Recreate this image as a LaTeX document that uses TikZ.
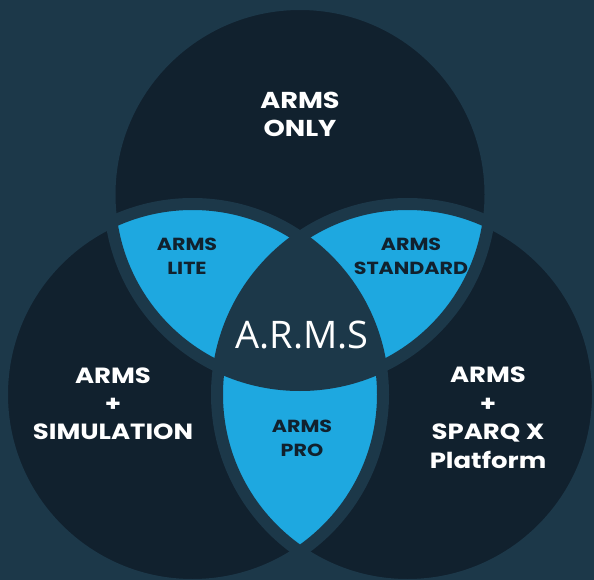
\documentclass[tikz,border=0pt]{standalone}
\usepackage{fontspec}
\newfontfamily\popfont{Poppins}[FakeStretch=1.18]
\newfontfamily\opensans{Open Sans}
\definecolor{bgcol}{HTML}{1C3849}
\definecolor{darkcol}{HTML}{11212E}
\definecolor{bluecol}{HTML}{1EA8E0}
\tikzset{
  lbl/.style={align=center, text=white, inner sep=0pt},
  lblblue/.style={align=center, text=darkcol, inner sep=0pt},
  gap/.style={draw=bgcol, line width=12pt}
}
\begin{document}
\begin{tikzpicture}[x=1pt,y=-1pt]
\useasboundingbox (0,0) rectangle (594,580);
\fill[bgcol] (0,0) rectangle (594,580);
\def\R{190.5}
\coordinate (T) at (300,194.5);
\coordinate (L) at (192.5,394.5);
\coordinate (Rc) at (407.5,394.5);
% circles
\fill[darkcol] (T) circle (\R);
\fill[darkcol] (L) circle (\R);
\fill[darkcol] (Rc) circle (\R);
% pairwise intersections
\begin{scope}\clip (T) circle (\R); \fill[bluecol] (L) circle (\R); \fill[bluecol] (Rc) circle (\R);\end{scope}
\begin{scope}\clip (L) circle (\R); \fill[bluecol] (Rc) circle (\R);\end{scope}
% triple intersection
\begin{scope}\clip (T) circle (\R); \clip (L) circle (\R); \fill[bgcol] (Rc) circle (\R);\end{scope}
% gaps
\draw[gap] (T) circle (\R);
\draw[gap] (L) circle (\R);
\draw[gap] (Rc) circle (\R);
% labels
\node[lbl, font=\popfont\bfseries\fontsize{23}{28}\selectfont] (only) at (300,114) {ARMS\\ONLY};
\node[lblblue, font=\popfont\bfseries\fontsize{17.5}{24}\selectfont] (lite) at (187,256) {ARMS\\LITE};
\node[lblblue, font=\popfont\bfseries\fontsize{17.5}{24}\selectfont] (std) at (411,256) {ARMS\\STANDARD};
\node[lbl, font=\opensans\fontsize{38}{44}\selectfont] (arms) at (302,335) {A.R.M.S};
\node[lbl, font=\popfont\bfseries\fontsize{22}{28}\selectfont] (sim) at (113,404) {ARMS\\+\\SIMULATION};
\node[lblblue, font=\popfont\bfseries\fontsize{17.5}{24}\selectfont] (pro) at (302,438) {ARMS\\PRO};
\node[lbl, font=\popfont\bfseries\fontsize{22}{28.5}\selectfont] (sparq) at (488,418) {ARMS\\+\\SPARQ X\\Platform};
\end{tikzpicture}
\end{document}
